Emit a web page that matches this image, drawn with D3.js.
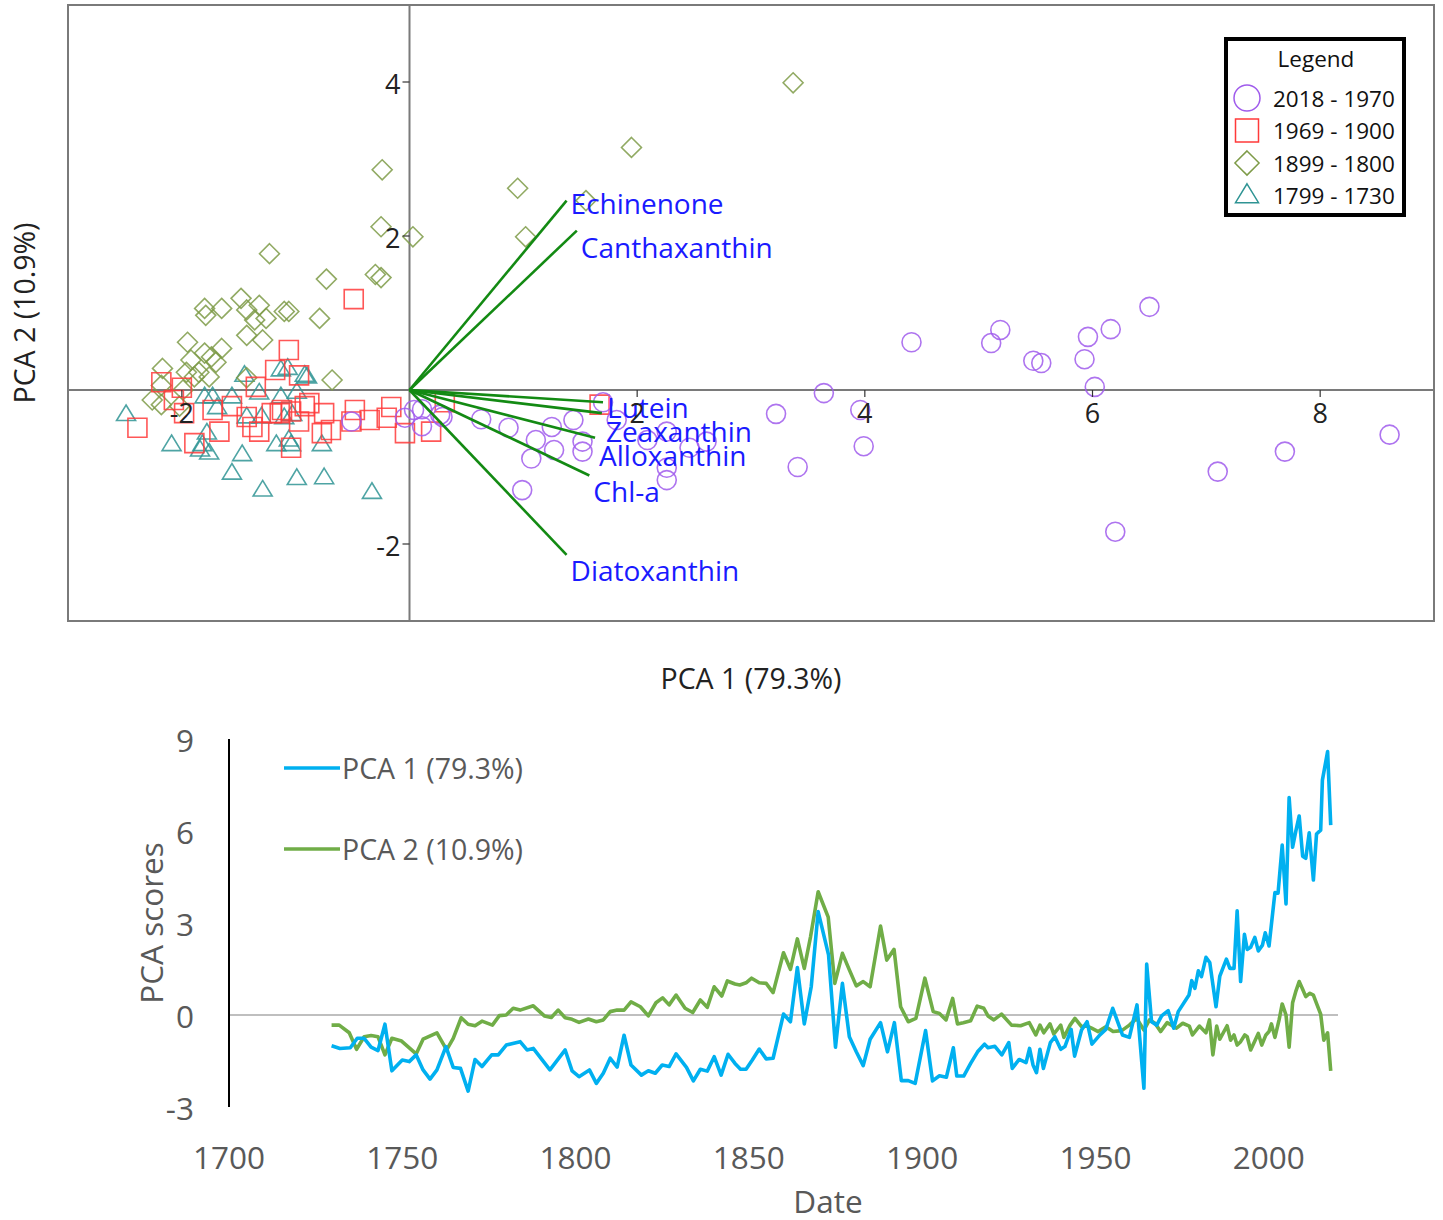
<!DOCTYPE html>
<html><head><meta charset="utf-8">
<script src="https://cdn.jsdelivr.net/npm/d3@7"></script>
<style>body{margin:0;background:#fff} svg{display:block}</style>
</head><body>
<svg id="c" width="1443" height="1220"></svg>
<script>
// ---------------- DATA ----------------
const groupLabels = ["2018 - 1970", "1969 - 1900", "1899 - 1800", "1799 - 1730"];

const scores1970 = [
 [4.41,0.62],[5.11,0.61],[5.19,0.78],[5.48,0.38],[5.55,0.35],[5.93,0.40],[5.96,0.69],[6.16,0.79],[6.50,1.08],
 [6.02,0.04],[3.64,-0.04],[3.22,-0.31],[3.96,-0.26],[3.99,-0.73],[3.41,-1.00],[6.20,-1.84],[7.10,-1.06],
 [7.69,-0.80],[8.61,-0.58],
 [0.63,-0.38],[0.87,-0.49],[1.11,-0.65],[1.07,-0.89],[0.99,-1.30],[1.25,-0.48],[1.27,-0.78],[1.44,-0.39],
 [1.52,-0.67],[1.52,-0.80],[1.70,-0.16],[1.82,-0.39],[2.09,-0.65],[2.26,-0.54],[2.26,-1.01],[2.26,-1.17],
 [2.46,-0.75],[2.61,-0.67],[0.04,-0.26],[0.11,-0.25],[0.29,-0.35],[-0.04,-0.36],[0.11,-0.47],[-0.51,-0.41],[0.27,-0.32]
];
const scores1900 = [
 [-0.49,1.18],[-1.06,0.52],[-1.18,0.26],[-0.97,0.19],[-2.18,0.10],[-2.00,0.03],[-2.07,-0.13],[-1.98,-0.30],
 [-2.39,-0.49],[-1.89,-0.69],[-1.67,-0.54],[-1.73,-0.26],[-1.35,0.04],[-1.56,-0.21],[-1.43,-0.35],[-1.38,-0.48],
 [-1.14,-0.30],[-1.04,-0.28],[-0.92,-0.21],[-0.88,-0.17],[-0.75,-0.30],[-0.97,-0.41],[-0.77,-0.56],[-0.69,-0.52],
 [-1.04,-0.75],[-0.48,-0.26],[-0.51,-0.41],[-0.35,-0.39],[-0.16,-0.22],[-0.20,-0.36],[-0.04,-0.56],[0.19,-0.54],
 [0.31,-0.16],[1.67,-0.19],[-1.21,-0.30],[-1.32,-0.54],[-1.12,-0.26]
];
const scores1800 = [
 [-0.73,1.44],[-0.25,1.46],[-0.30,1.50],[-0.24,2.86],[-0.25,2.12],[0.03,1.99],[-1.23,1.77],[0.95,2.62],
 [1.02,1.99],[1.55,2.46],[1.95,3.15],[3.37,3.99],[-1.48,1.19],[-1.43,1.04],[-1.32,1.10],[-1.65,1.06],
 [-1.80,1.06],[-1.79,0.97],[-1.36,0.91],[-1.26,0.93],[-1.10,1.02],[-1.06,1.02],[-0.79,0.93],[-1.43,0.71],
 [-1.29,0.65],[-1.95,0.62],[-1.80,0.48],[-1.65,0.54],[-1.92,0.39],[-1.70,0.36],[-2.17,0.28],[-1.96,0.23],
 [-1.85,0.23],[-1.76,0.17],[-2.18,0.06],[-1.89,0.17],[-2.26,-0.13],[-2.18,-0.19],[-2.02,-0.21],[-1.43,0.16],
 [-0.68,0.13],[-1.74,0.43],[-1.99,0.00]
];
const scores1730 = [
 [-2.49,-0.32],[-2.09,-0.71],[-1.84,-0.78],[-1.76,-0.82],[-1.78,-0.56],[-1.80,-0.09],[-1.73,-0.09],[-1.69,-0.23],
 [-1.56,-0.09],[-1.45,0.19],[-1.43,-0.35],[-1.30,-0.35],[-1.32,-0.04],[-1.13,0.26],[-1.07,0.28],[-0.92,0.19],
 [-0.90,0.17],[-1.13,-0.09],[-0.99,-0.03],[-1.10,-0.36],[-1.03,-0.32],[-1.17,-0.71],[-1.06,-0.65],[-1.04,-0.71],
 [-0.77,-0.71],[-1.47,-0.84],[-1.56,-1.08],[-1.29,-1.30],[-0.99,-1.15],[-0.75,-1.14],[-0.33,-1.33],[-1.82,-0.71]
];

const loadingNames = ["Echinenone","Canthaxanthin","Lutein","Zeaxanthin","Alloxanthin","Chl-a","Diatoxanthin"];
const loadingX = [1.38, 1.47, 1.70, 1.69, 1.63, 1.58, 1.38];
const loadingY = [2.46, 2.07, -0.16, -0.30, -0.62, -1.11, -2.14];

const topXTicks = [-2, 2, 4, 6, 8];
const topYTicks = [-2, 2, 4];

const dates1 = [1729.6,1732,1735,1737,1739,1741,1743,1745,1747,1750,1752,1754,1756,1758,1760,1762.6,1764.7,1766.8,1769,1771,
 1773,1775.8,1777.7,1780,1784,1786,1787.8,1792.6,1797,1799,1801,1804,1806,1808,1810,1812,1814,1816,1819,1821,
 1823,1825,1827,1829,1832,1834,1836,1838,1840,1842,1844,1846,1847.6,1849.2,1851,1853,1855,1857,1860,1862,
 1864,1866,1868,1870,1873,1875,1877,1879,1881,1883,1885,1888,1890,1892,1894,1896,1898,1901,1903,1905,
 1907,1909,1910,1912,1914,1916,1918,1919,1921,1923,1925,1926,1928,1930,1931,1932,1933,1934,1935,1937,
 1938.3,1940,1941.2,1943,1944,1946,1947.6,1949,1951.3,1953,1955,1957.8,1959.8,1962,1964,1964.8,1966.2,1967.7,1969.1,1971,
 1972.6,1973.9,1977,1977.8,1978.7,1979.7,1980.6,1981.9,1983,1984.8,1985.9,1987.8,1988.8,1990,1990.9,1991.9,1993,1993.8,1994.8,1996,
 1997,1998.2,1999,2000.1,2001.8,2002.7,2003.9,2005,2005.9,2006.9,2007.8,2008.8,2009.8,2010.7,2011.7,2012.9,2013.8,2015,2015.5,2017,2017.9];
const pca1 = [-1.0,-1.09,-1.07,-0.76,-0.76,-1.05,-1.16,-0.30,-1.82,-1.47,-1.52,-1.30,-1.79,-2.09,-1.79,-1.03,-1.71,-1.74,-2.48,-1.45,
 -1.68,-1.30,-1.30,-0.98,-0.87,-1.14,-1.09,-1.79,-1.14,-1.82,-2.01,-1.79,-2.23,-1.90,-1.41,-1.70,-0.66,-1.63,-1.96,-1.82,
 -1.90,-1.63,-1.68,-1.27,-1.71,-2.15,-1.77,-1.83,-1.36,-1.96,-1.28,-1.58,-1.77,-1.77,-1.47,-1.11,-1.43,-1.41,0.03,-0.22,
 1.55,-0.29,0.92,3.37,1.96,-1.05,1.03,-0.71,-1.20,-1.65,-0.79,-0.25,-1.20,-0.25,-2.14,-2.14,-2.23,-0.51,-2.15,-1.98,
 -2.03,-1.07,-1.99,-1.99,-1.58,-1.20,-0.95,-1.07,-1.02,-1.30,-0.90,-1.74,-1.45,-1.55,-1.09,-1.63,-1.88,-1.12,-1.74,-0.90,
 -0.71,-1.12,-1.03,-0.47,-1.34,-0.49,-0.22,-0.95,-0.65,-0.47,0.22,-0.65,-0.73,0.33,-2.39,1.66,-0.22,-0.33,-0.03,0.14,
 -0.43,0.11,0.65,1.12,0.87,1.44,1.25,1.88,1.71,0.27,1.27,1.82,1.52,1.52,3.40,1.09,2.63,2.14,2.21,2.53,
 2.09,2.28,2.68,2.25,3.99,3.97,5.54,3.62,7.09,5.47,5.98,6.49,5.18,5.11,5.94,4.40,5.90,6.03,7.66,8.59,6.19];

const dates2 = [1729.6,1731.8,1734.7,1736.8,1739,1741,1743,1745,1747,1749.8,1754,1756,1760,1762.8,1764.7,1767,1769,1771,1773,1776,
 1778,1780,1782,1784,1787.8,1791,1793,1795,1797,1799,1801,1803.7,1806,1808,1810,1812,1814,1816,1818.7,1821,
 1823.2,1825.1,1827,1829,1831.6,1833.8,1836,1838,1840,1842.2,1843.8,1846,1847.4,1849.2,1850.8,1853,1855,1857,1860,1862,
 1864,1866,1867.8,1870,1872.9,1874.8,1877,1879,1881,1883,1885,1888,1889.8,1891.9,1893.8,1896,1898.2,1900.8,1903.2,1905,
 1906.9,1908.8,1910.2,1911.9,1914,1915.9,1917.8,1919,1920.7,1922.9,1925.8,1928.4,1930.9,1932.8,1934,1935.1,1936.9,1938,1940,1940.9,
 1942.7,1944.1,1946,1947.6,1948.9,1950.8,1953,1955.1,1957.6,1959.8,1961.9,1964,1965.6,1967.2,1968.8,1970.7,1973.4,1975.2,1977.1,1978,
 1980,1981.9,1982.9,1983.9,1985,1985.9,1988,1989,1990,1990.9,1991.9,1993.1,1993.8,1994.8,1997,1998,1999.2,2000.1,2000.8,2001.8,
 2003,2003.9,2005,2005.9,2006.9,2007.8,2008.8,2009.8,2010.7,2011.9,2012.9,2013.8,2015,2015.9,2017,2017.9];
const pca2 = [-0.33,-0.33,-0.58,-1.12,-0.71,-0.67,-0.71,-1.30,-0.76,-0.85,-1.27,-0.79,-0.58,-1.14,-0.76,-0.09,-0.30,-0.35,-0.20,-0.33,
 -0.02,0.0,0.22,0.16,0.30,-0.03,-0.08,0.16,-0.09,-0.14,-0.24,-0.13,-0.22,-0.16,0.11,0.16,0.16,0.43,0.27,-0.03,
 0.40,0.56,0.33,0.65,0.22,0.08,0.49,0.25,0.92,0.62,1.11,1.01,0.98,1.05,1.20,1.05,1.03,0.73,2.03,1.49,
 2.48,1.52,2.55,4.02,3.19,1.03,2.01,1.47,0.95,1.09,0.92,2.90,1.79,2.14,0.27,-0.22,-0.11,1.20,0.11,0.05,
 -0.16,0.54,-0.29,-0.25,-0.19,0.29,0.22,-0.03,-0.16,0.03,-0.33,-0.35,-0.25,-0.65,-0.33,-0.58,-0.29,-0.62,-0.33,-0.73,
 -0.33,-0.11,-0.38,-0.36,-0.43,-0.54,-0.38,-0.54,-0.51,-0.33,-0.11,-0.49,-0.16,-0.27,-0.54,-0.25,-0.43,-0.27,-0.36,-0.65,
 -0.36,-0.58,-0.16,-1.30,-0.36,-0.79,-0.35,-0.82,-0.65,-0.98,-0.87,-0.65,-0.71,-1.14,-0.60,-0.98,-0.65,-0.54,-0.29,-0.73,
 -0.16,0.36,0.0,-1.05,0.40,0.76,1.09,0.84,0.60,0.71,0.65,0.38,0.03,-0.82,-0.58,-1.82];

const bottomXTicks = [1700, 1750, 1800, 1850, 1900, 1950, 2000];
const bottomYTicks = [-3, 0, 3, 6, 9];
const seriesNames = ["PCA 1 (79.3%)", "PCA 2 (10.9%)"];

// ---------------- DRAWING ----------------
const svg = d3.select("#c");
const FONT = "'Open Sans', 'Noto Sans', sans-serif";

// top biplot
const x = d3.scaleLinear().domain([-3, 9]).range([68, 1434]);
const y = d3.scaleLinear().domain([-3, 5]).range([621, 5]);

const colors = ["#a05cec", "#ff3a3a", "#7e9b48", "#2f9494"];
const topG = svg.append("g");

topG.append("rect").attr("x", x(-3)).attr("y", y(5)).attr("width", x(9) - x(-3)).attr("height", y(-3) - y(5))
  .attr("fill", "none").attr("stroke", "#7a7a7a").attr("stroke-width", 2);
topG.append("line").attr("x1", x(-3)).attr("x2", x(9)).attr("y1", y(0)).attr("y2", y(0))
  .attr("stroke", "#7a7a7a").attr("stroke-width", 2);
topG.append("line").attr("x1", x(0)).attr("x2", x(0)).attr("y1", y(5)).attr("y2", y(-3))
  .attr("stroke", "#7a7a7a").attr("stroke-width", 2);

function shapePath(kind, s) {
  if (kind === 0) { const r = s / 2; return `M${r},0A${r},${r} 0 1,1 ${-r},0A${r},${r} 0 1,1 ${r},0Z`; }
  if (kind === 1) { const h = s / 2; return `M${-h},${-h}H${h}V${h}H${-h}Z`; }
  if (kind === 2) { const h = s / 2 * 1.05; return `M0,${-h}L${h},0L0,${h}L${-h},0Z`; }
  const w = s / 2, hh = s * 0.82;
  return `M0,${-hh * 0.62}L${w},${hh * 0.38}L${-w},${hh * 0.38}Z`;
}

const allScores = [scores1970, scores1900, scores1800, scores1730];
[3, 2, 1, 0].forEach(gi => {
  topG.append("g").selectAll("path").data(allScores[gi]).join("path")
    .attr("transform", d => `translate(${x(d[0])},${y(d[1])})`)
    .attr("d", shapePath(gi, 19))
    .attr("fill", "none").attr("stroke", colors[gi]).attr("stroke-width", 1.6).attr("stroke-opacity", 0.85);
});

// loadings
const labelDy = [2, 16, 5, 18, 17, 16, 15];
loadingNames.forEach((n, i) => {
  topG.append("line").attr("x1", x(0)).attr("y1", y(0)).attr("x2", x(loadingX[i])).attr("y2", y(loadingY[i]))
    .attr("stroke", "#138a13").attr("stroke-width", 2.6);
});
loadingNames.forEach((n, i) => {
  topG.append("text").attr("x", x(loadingX[i]) + 4).attr("y", y(loadingY[i]) + labelDy[i])
    .attr("dominant-baseline", "central").attr("font-family", FONT).attr("font-size", 28)
    .attr("fill", "#1a1aff").text(n);
});

// ticks
topXTicks.forEach(t => {
  topG.append("line").attr("x1", x(t)).attr("x2", x(t)).attr("y1", y(0)).attr("y2", y(0) + 7)
    .attr("stroke", "#333").attr("stroke-width", 1.2);
  topG.append("text").attr("x", x(t)).attr("y", y(0) + 33).attr("text-anchor", "middle")
    .attr("font-family", FONT).attr("font-size", 27).attr("fill", "#222").text(t < 0 ? "-" + Math.abs(t) : t);
});
topYTicks.forEach(t => {
  topG.append("line").attr("x1", x(0) - 7).attr("x2", x(0)).attr("y1", y(t)).attr("y2", y(t))
    .attr("stroke", "#333").attr("stroke-width", 1.2);
  topG.append("text").attr("x", x(0) - 9).attr("y", y(t) + 1).attr("text-anchor", "end").attr("dominant-baseline", "central")
    .attr("font-family", FONT).attr("font-size", 27).attr("fill", "#222").text(t < 0 ? "-" + Math.abs(t) : t);
});

topG.append("text").attr("transform", `translate(24,${313}) rotate(-90)`)
  .attr("text-anchor", "middle").attr("dominant-baseline", "central")
  .attr("font-family", FONT).attr("font-size", 28.5).attr("fill", "#222").text("PCA 2 (10.9%)");
topG.append("text").attr("x", 751).attr("y", 678).attr("text-anchor", "middle").attr("dominant-baseline", "central")
  .attr("font-family", FONT).attr("font-size", 28.5).attr("fill", "#222").text("PCA 1 (79.3%)");

// legend
const lg = topG.append("g").attr("transform", "translate(1226,39)");
lg.append("rect").attr("width", 178).attr("height", 176).attr("fill", "#fff").attr("stroke", "#000").attr("stroke-width", 4);
lg.append("text").attr("x", 90).attr("y", 19).attr("text-anchor", "middle").attr("dominant-baseline", "central")
  .attr("font-family", FONT).attr("font-size", 22.5).attr("fill", "#111").text("Legend");
groupLabels.forEach((g, i) => {
  const cy = 59 + i * 32.5;
  lg.append("path").attr("transform", `translate(21,${cy})`).attr("d", shapePath(i, i === 0 ? 26 : 23))
    .attr("fill", "none").attr("stroke", colors[i]).attr("stroke-width", 1.5);
  lg.append("text").attr("x", 47).attr("y", cy).attr("dominant-baseline", "central")
    .attr("font-family", FONT).attr("font-size", 22.5).attr("fill", "#111").text(g);
});

// bottom time series
const bx = d3.scaleLinear().domain([1700, 2020]).range([229, 1338]);
const by = d3.scaleLinear().domain([-3, 9]).range([1107, 739]);
const bot = svg.append("g");
const GRAY = "#595959";

bot.append("line").attr("x1", bx(1700)).attr("x2", bx(2020)).attr("y1", by(0)).attr("y2", by(0))
  .attr("stroke", "#bfbfbf").attr("stroke-width", 2);
bot.append("line").attr("x1", bx(1700)).attr("x2", bx(1700)).attr("y1", by(9)).attr("y2", by(-3))
  .attr("stroke", "#000").attr("stroke-width", 2);

const line = d3.line().x(d => bx(d[0])).y(d => by(d[1]));
const s1 = dates1.map((d, i) => [d, pca1[i]]);
const s2 = dates2.map((d, i) => [d, pca2[i]]);
bot.append("path").datum(s2).attr("d", line).attr("fill", "none").attr("stroke", "#70ad47").attr("stroke-width", 3.6).attr("stroke-linejoin", "round");
bot.append("path").datum(s1).attr("d", line).attr("fill", "none").attr("stroke", "#00b0f0").attr("stroke-width", 3.6).attr("stroke-linejoin", "round");

bottomXTicks.forEach(t => {
  bot.append("text").attr("x", bx(t)).attr("y", 1156).attr("text-anchor", "middle").attr("dominant-baseline", "central")
    .attr("font-family", FONT).attr("font-size", 31.5).attr("fill", GRAY).text(t);
});
bottomYTicks.forEach(t => {
  bot.append("text").attr("x", 194).attr("y", by(t)).attr("text-anchor", "end").attr("dominant-baseline", "central")
    .attr("font-family", FONT).attr("font-size", 31.5).attr("fill", GRAY).text(t < 0 ? "-" + Math.abs(t) : t);
});
bot.append("text").attr("x", 828).attr("y", 1200).attr("text-anchor", "middle").attr("dominant-baseline", "central")
  .attr("font-family", FONT).attr("font-size", 31.5).attr("fill", GRAY).text("Date");
bot.append("text").attr("transform", `translate(150,${by(3)}) rotate(-90)`).attr("text-anchor", "middle")
  .attr("dominant-baseline", "central").attr("font-family", FONT).attr("font-size", 31.5).attr("fill", GRAY).text("PCA scores");

const legColors = ["#00b0f0", "#70ad47"];
seriesNames.forEach((n, i) => {
  const ly = 768 + i * 81;
  bot.append("line").attr("x1", 284).attr("x2", 340).attr("y1", ly).attr("y2", ly).attr("stroke", legColors[i]).attr("stroke-width", 3.6);
  bot.append("text").attr("x", 342).attr("y", ly).attr("dominant-baseline", "central")
    .attr("font-family", FONT).attr("font-size", 28.5).attr("fill", GRAY).text(n);
});
</script>
</body></html>
